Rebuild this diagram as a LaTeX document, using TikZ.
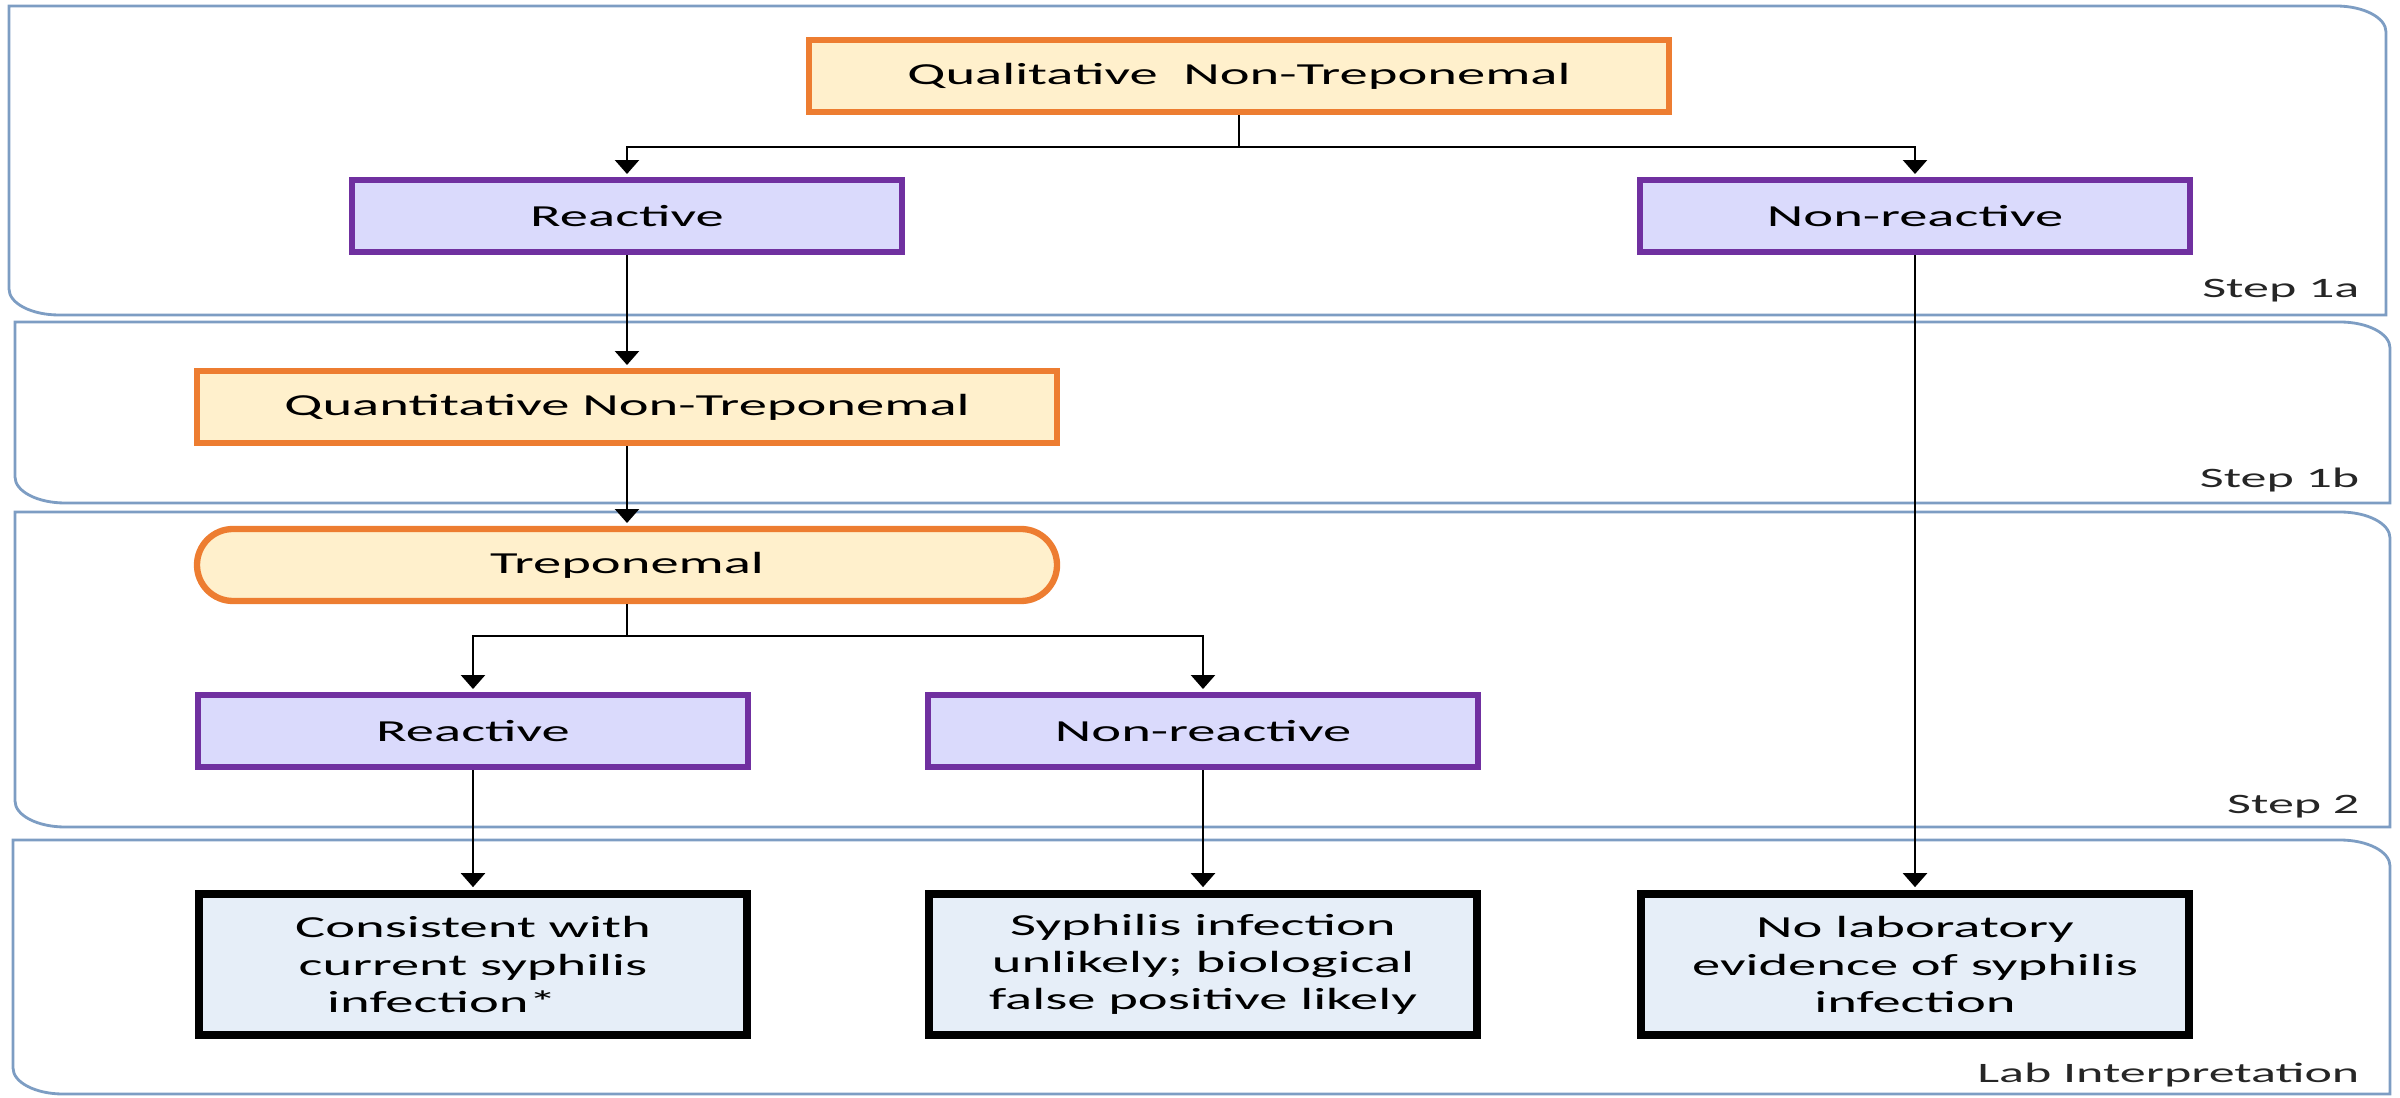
\documentclass[tikz,border=0pt]{standalone}
\usepackage{fontspec}
\setmainfont{Carlito}[FakeStretch=1.85]
\usepackage{xcolor}
\usepackage{tikz}
\usetikzlibrary{arrows.meta}

\definecolor{testline}{HTML}{ED7D31}
\definecolor{testfill}{HTML}{FFF0CC}
\definecolor{resline}{HTML}{7030A0}
\definecolor{resfill}{HTML}{DADAFC}
\definecolor{interpfill}{HTML}{E6EEF8}
\definecolor{panelline}{HTML}{7D9DC3}

\newcommand{\lblfont}{\fontsize{8.7}{10.6}\selectfont}
\newcommand{\steppanel}[4]{%
  \draw[panel] (#1,#2) -- ({#3-0.5},#2) arc[start angle=90,end angle=0,x radius=0.5,y radius=0.26]
    -- (#3,#4) -- ({#1+0.5},#4) arc[start angle=270,end angle=180,x radius=0.5,y radius=0.26] -- cycle;}

\begin{document}
\begin{tikzpicture}[
    panel/.style={draw=panelline, line width=0.8pt},
    testbox/.style={draw=testline, fill=testfill, line width=1.8pt, minimum width=8.6cm, minimum height=0.72cm, align=center, font=\lblfont},
    resbox/.style={draw=resline, fill=resfill, line width=1.8pt, minimum width=5.5cm, minimum height=0.72cm, align=center, font=\lblfont},
    interpbox/.style={draw=black, fill=interpfill, line width=2.3pt, minimum width=5.48cm, minimum height=1.41cm, align=center, font=\lblfont},
    steplabel/.style={anchor=base east, inner sep=0pt, text=black!85, font=\fontsize{8}{9.6}\selectfont},
    link/.style={line width=0.7pt},
    arrow/.style={-{Triangle[width=0.24cm,length=0.14cm]}, line width=0.7pt, shorten >=0.8pt}
]
\useasboundingbox (0,0) rectangle (24,10.97);
\steppanel{0.09}{10.91}{23.86}{7.82}
\steppanel{0.15}{7.75}{23.90}{5.94}
\steppanel{0.15}{5.85}{23.90}{2.70}
\steppanel{0.13}{2.57}{23.90}{0.03}

\node[steplabel] (lab1a) at (23.60,7.99) {Step 1a};
\node[steplabel] (lab1b) at (23.60,6.09) {Step 1b};
\node[steplabel] (lab2) at (23.60,2.83) {Step 2};
\node[steplabel] (labint) at (23.60,0.15) {Lab Interpretation};

\node[testbox] (qual) at (12.39,10.21) {Qualitative\ \ Non-Treponemal};
\node[resbox] (react1) at (6.27,8.81) {Reactive};
\node[resbox] (nonreact1) at (19.15,8.81) {Non-reactive};
\node[testbox] (quant) at (6.27,6.90) {Quantitative Non-Treponemal};
\node[testbox, rounded corners=0.36cm] (trep) at (6.27,5.32) {Treponemal};
\node[resbox] (react2) at (4.73,3.66) {Reactive};
\node[resbox] (nonreact2) at (12.03,3.66) {Non-reactive};
\node[interpbox] (interp1) at (4.73,1.325) {Consistent with\\current syphilis\\\mbox{infection*\hspace{0.62cm}}};
\node[interpbox] (interp2) at (12.03,1.325) {Syphilis infection\\unlikely; biological\\false positive likely};
\node[interpbox] (interp3) at (19.15,1.325) {No laboratory\\evidence of syphilis\\infection};

\coordinate (split1) at (12.39,9.50);
\coordinate (split2) at (6.27,4.61);

\draw[link] (qual.south) -- (split1);
\draw[arrow] (split1) -| (react1.north);
\draw[arrow] (split1) -| (nonreact1.north);
\draw[arrow] (react1) -- (quant);
\draw[arrow] (quant) -- (trep);
\draw[link] (trep.south) -- (split2);
\draw[arrow] (split2) -| (react2.north);
\draw[arrow] (split2) -| (nonreact2.north);
\draw[arrow] (react2) -- (interp1);
\draw[arrow] (nonreact2) -- (interp2);
\draw[arrow] (nonreact1) -- (interp3);
\end{tikzpicture}
\end{document}
